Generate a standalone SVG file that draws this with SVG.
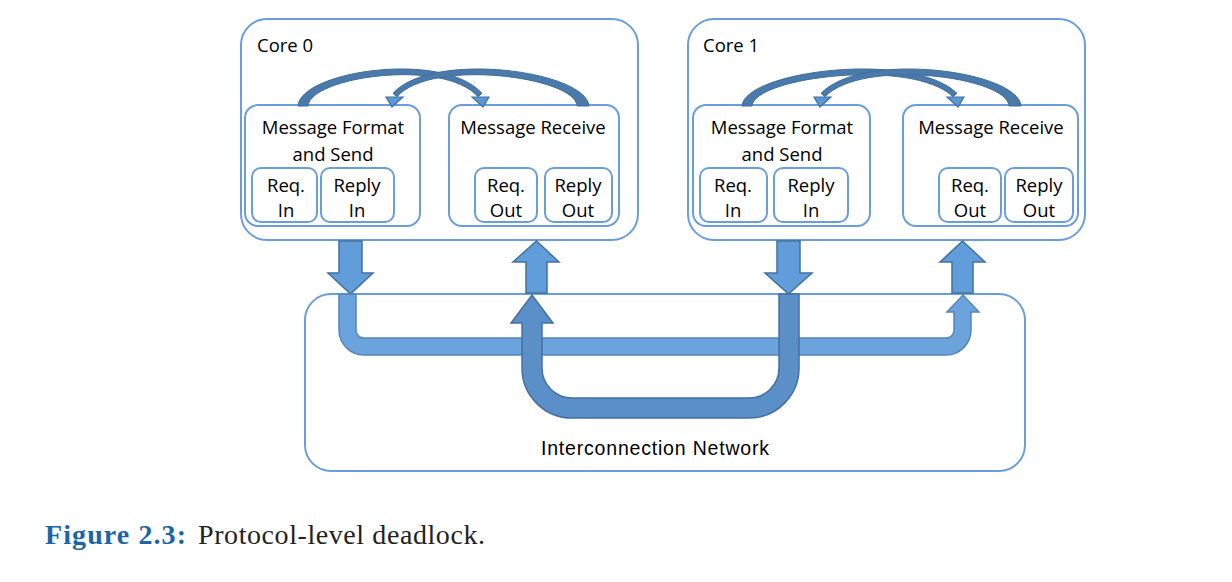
<svg xmlns="http://www.w3.org/2000/svg" width="1232" height="582" viewBox="0 0 1232 582">
<style>
.box{fill:#fff;stroke:#6a9edb;stroke-width:2}
.t{font-family:"Open Sans","Liberation Sans",sans-serif;font-size:18.5px;fill:#000;text-anchor:middle}
.tl{font-family:"Open Sans","Liberation Sans",sans-serif;font-size:18.5px;fill:#000}
.blk{fill:#629ddb;stroke:#41719c;stroke-width:1.5;stroke-linejoin:miter}
.arc{fill:#4a7aab;stroke:#416d9c;stroke-width:1}
.ah{fill:#5b97d4;stroke:#41719c;stroke-width:1.2}
.p1{fill:#6ba3dc;stroke:#5585b8;stroke-width:1.5}
.p2{fill:#5b8fc8;stroke:#44709f;stroke-width:1.5}
</style>
<rect width="1232" height="582" fill="#fff"/>

<g id="network">
<rect class="box" x="305" y="294" width="720" height="177" rx="26"/>
<text x="655" y="455" font-family="Liberation Sans, Arial, sans-serif" font-size="19.5" text-anchor="middle" textLength="228">Interconnection Network</text>
</g>

<g id="core0">
<rect class="box" x="241" y="19" width="397" height="221" rx="26"/>
<text class="tl" x="257" y="52">Core 0</text>
<g id="core0-send">
<rect class="box" x="245" y="105" width="175" height="121" rx="13"/>
<text class="t" x="333" y="134">Message Format</text>
<text class="t" x="333" y="161">and Send</text>
<g id="core0-reqin"><rect class="box" x="252" y="168" width="65" height="54" rx="9"/>
<text class="t" x="286" y="192">Req.</text><text class="t" x="286" y="217">In</text></g>
<g id="core0-replyin"><rect class="box" x="321" y="168" width="73" height="54" rx="9"/>
<text class="t" x="357" y="192">Reply</text><text class="t" x="357" y="217">In</text></g>
</g>
<g id="core0-recv">
<rect class="box" x="449" y="105" width="170" height="121" rx="13"/>
<text class="t" x="533" y="134">Message Receive</text>
<g id="core0-reqout"><rect class="box" x="475" y="168" width="62" height="54" rx="9"/>
<text class="t" x="506" y="192">Req.</text><text class="t" x="506" y="217">Out</text></g>
<g id="core0-replyout"><rect class="box" x="545" y="168" width="67" height="54" rx="9"/>
<text class="t" x="578" y="192">Reply</text><text class="t" x="578" y="217">Out</text></g>
</g>
</g>

<g id="core1">
<rect class="box" x="688" y="19" width="397" height="221" rx="26"/>
<text class="tl" x="703" y="52">Core 1</text>
<g id="core1-send">
<rect class="box" x="693" y="105" width="177" height="121" rx="13"/>
<text class="t" x="782" y="134">Message Format</text>
<text class="t" x="782" y="161">and Send</text>
<g id="core1-reqin"><rect class="box" x="700" y="168" width="67" height="54" rx="9"/>
<text class="t" x="733" y="192">Req.</text><text class="t" x="733" y="217">In</text></g>
<g id="core1-replyin"><rect class="box" x="774" y="168" width="74" height="54" rx="9"/>
<text class="t" x="811" y="192">Reply</text><text class="t" x="811" y="217">In</text></g>
</g>
<g id="core1-recv">
<rect class="box" x="903" y="105" width="175" height="121" rx="13"/>
<text class="t" x="991" y="134">Message Receive</text>
<g id="core1-reqout"><rect class="box" x="939" y="168" width="62" height="54" rx="9"/>
<text class="t" x="970" y="192">Req.</text><text class="t" x="970" y="217">Out</text></g>
<g id="core1-replyout"><rect class="box" x="1005" y="168" width="68" height="54" rx="9"/>
<text class="t" x="1039" y="192">Reply</text><text class="t" x="1039" y="217">Out</text></g>
</g>
</g>

<g id="connectors">
<!-- internal curved arrows core 0 -->
<path class="arc" d="M298 106 C300.5 71 443 50 482 93.3 L478.1 96.7 C443 57.5 310 77 308 106 Z"/>
<polygon class="ah" points="472,97 489,97 483,107"/>
<path class="arc" d="M589 106 C586.5 71 432 50 393 93.3 L396.9 96.7 C432 57.5 576 77 577 106 Z"/>
<polygon class="ah" points="403,97 386,97 392,107"/>
<!-- internal curved arrows core 1 -->
<path class="arc" d="M742 106 C744.5 71 912 50 957 93.3 L953.1 96.7 C912 57.5 754 77 752 106 Z"/>
<polygon class="ah" points="947,97 964,97 958,107"/>
<path class="arc" d="M1021 106 C1018.5 71 863 50 821 93.3 L824.9 96.7 C863 57.5 1008 77 1009 106 Z"/>
<polygon class="ah" points="831,97 814,97 820,107"/>

<!-- block arrows between cores and network -->
<polygon class="blk" points="339,241 362,241 362,273 373,273 350.5,294 328,273 339,273"/>
<polygon class="blk" points="526,293 547,293 547,262 559,262 536.5,241 513,262 526,262"/>
<polygon class="blk" points="777,241 800,241 800,273 812,273 788.5,294 765,273 777,273"/>
<polygon class="blk" points="952,293 973,293 973,262 985,262 962.5,241 940,262 952,262"/>

<!-- network paths -->
<path class="p1" d="M339 294 L339 330 A25 25 0 0 0 364 355 L946 355 A25 25 0 0 0 971 330 L971 312 L979 312 L963 295 L947 312 L954 312 L954 330 A8 8 0 0 1 946 338 L364 338 A8 8 0 0 1 356 330 L356 294 Z"/>
<path class="p2" d="M779 294 L779 368 A30 30 0 0 1 749 398 L572 398 A30 30 0 0 1 542 368 L542 323 L553 323 L532 295 L511 323 L522 323 L522 368 A50 50 0 0 0 572 418 L749 418 A50 50 0 0 0 799 368 L799 294 Z"/>
</g>

<g id="caption">
<text x="45" y="544" font-family="Liberation Serif, Times New Roman, serif" font-size="28" font-weight="bold" fill="#1c65a8" textLength="141">Figure 2.3:</text>
<text x="198" y="544" font-family="Liberation Serif, Times New Roman, serif" font-size="28" fill="#222" textLength="287">Protocol-level deadlock.</text>
</g>
</svg>
